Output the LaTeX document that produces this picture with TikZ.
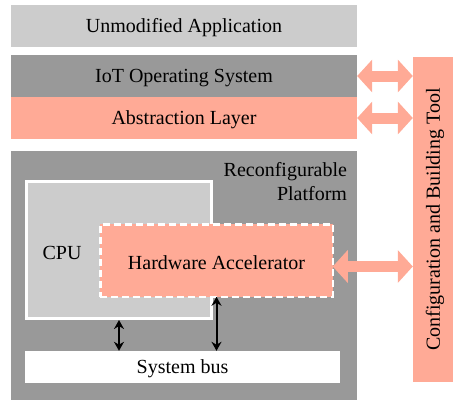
\documentclass[tikz,border=0pt]{standalone}
\usepackage{fontspec}
\setmainfont{Liberation Serif}
\usetikzlibrary{arrows.meta}
\definecolor{salmon}{RGB}{255,170,150}
\definecolor{midgray}{RGB}{153,153,153}
\definecolor{lightgray}{RGB}{204,204,204}
\tikzset{
  txt/.style={inner sep=0pt, text height=13.5pt, text depth=0pt, font=\fontsize{20}{24}\selectfont},
  layer/.style={txt, minimum width=346pt, minimum height=42pt},
  bigarrow/.style={draw=salmon, line width=11pt, {Triangle[length=15pt,width=32pt]}-{Triangle[length=15pt,width=32pt]}},
  busarrow/.style={draw=black, line width=2pt, {Stealth[length=9pt,width=10pt]}-{Stealth[length=9pt,width=10pt]}}
}
\begin{document}
\begin{tikzpicture}[x=1pt,y=-1pt]
\useasboundingbox (0,0) rectangle (453,400);
% top layers
\node[layer, fill=lightgray] (app) at (184,26) {Unmodified Application};
\node[layer, fill=midgray] (iot) at (184,76) {IoT Operating System};
\node[layer, fill=salmon] (abs) at (184,118) {Abstraction Layer};
% platform
\node[inner sep=0pt, fill=midgray, minimum width=346pt, minimum height=249pt] (plat) at (184,275.5) {};
\node[inner sep=0pt, font=\fontsize{20}{24}\selectfont, align=right, anchor=north east] (platlbl) at ([xshift=-10pt,yshift=-11pt]plat.north east) {Reconfigurable\\Platform};
% CPU
\node[inner sep=0pt, fill=lightgray, draw=white, line width=3pt, minimum width=185pt, minimum height=137pt] (cpu) at (119,250) {};
\node[txt] (cpulbl) at ([xshift=37pt,yshift=-3pt]cpu.west) {CPU};
% system bus
\node[txt, fill=white, minimum width=315pt, minimum height=32pt] (bus) at (182.5,367) {System bus};
% hardware accelerator
\node[txt, fill=salmon, draw=white, line width=2.5pt, dash pattern=on 7pt off 4pt, minimum width=232.5pt, minimum height=72.5pt, outer sep=0pt] (hw) at (216.5,260.5) {\raisebox{-2pt}{Hardware Accelerator}};
% configuration tool
\node[txt, fill=salmon, minimum width=325pt, minimum height=40pt, rotate=90] (tool) at (433,219.5) {Configuration and Building Tool};
% arrows
\draw[bigarrow] (iot.east) -- (iot.east -| tool.north);
\draw[bigarrow] (abs.east) -- (abs.east -| tool.north);
\draw[bigarrow] ([yshift=-6pt]hw.east) -- ([yshift=-6pt]hw.east -| tool.north);
\draw[busarrow] (cpu.south) -- (cpu.south |- bus.north);
\draw[busarrow] (hw.south) -- (hw.south |- bus.north);
\end{tikzpicture}
\end{document}
